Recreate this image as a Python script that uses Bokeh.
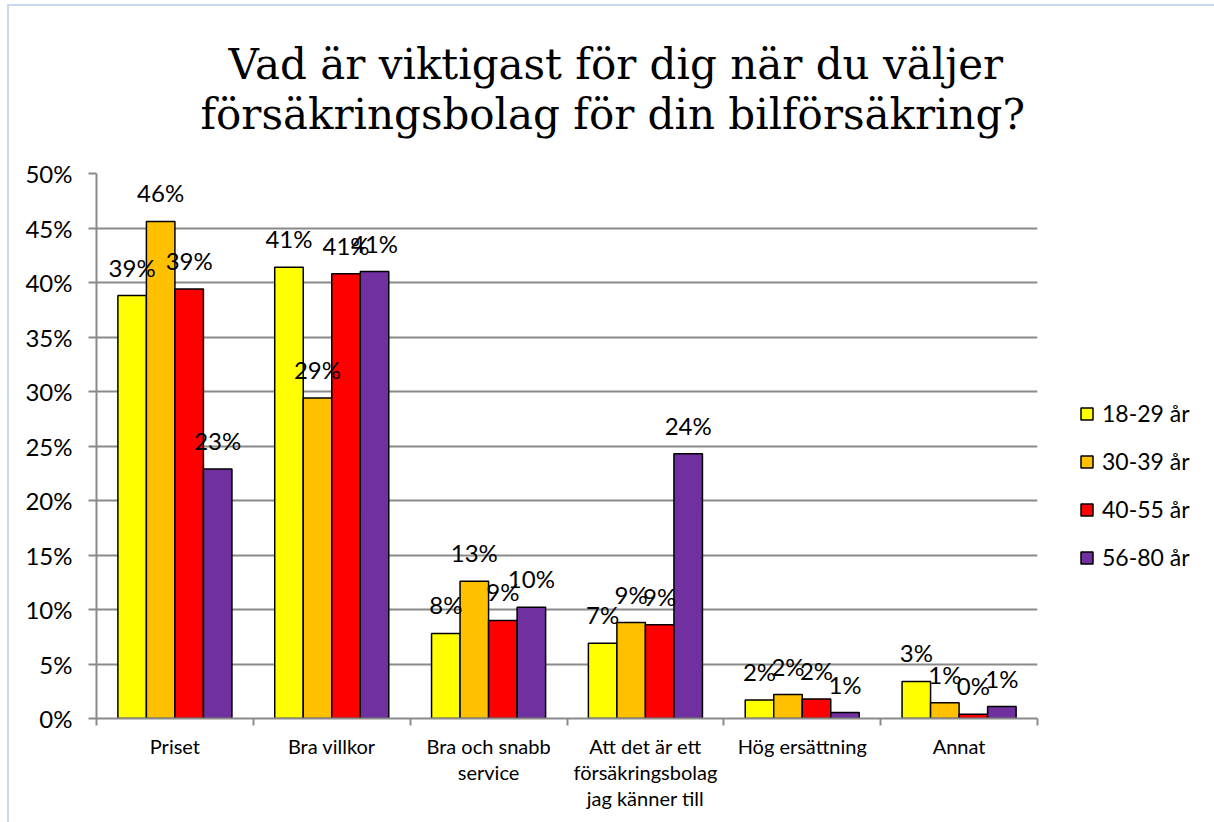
from bokeh.plotting import figure
from bokeh.models import (ColumnDataSource, FixedTicker, PrintfTickFormatter, Legend,
                          LegendItem, LabelSet, Title, Range1d)
from bokeh.core.properties import value
from bokeh.embed import file_html
from bokeh.resources import INLINE

# ---- data ----
categories = ["Priset", "Bra villkor", "Bra och snabb\nservice",
              "Att det är ett\nförsäkringsbolag\njag känner till",
              "Hög ersättning", "Annat"]
groups = ["18-29 år", "30-39 år", "40-55 år", "56-80 år"]
v_18_29 = [38.8, 41.4, 7.8, 6.9, 1.7, 3.4]
v_30_39 = [45.6, 29.4, 12.6, 8.8, 2.2, 1.45]
v_40_55 = [39.4, 40.8, 9.0, 8.6, 1.8, 0.4]
v_56_80 = [22.9, 41.0, 10.2, 24.3, 0.55, 1.1]
series = [v_18_29, v_30_39, v_40_55, v_56_80]
colors = ["#FFFF00", "#FFC000", "#FF0000", "#7030A0"]
y_ticks = [0, 5, 10, 15, 20, 25, 30, 35, 40, 45, 50]
title_lines = ["Vad är viktigast för dig när du väljer",
               "försäkringsbolag för din bilförsäkring?"]

FONT = "Lato"
GRID = "#8a8a8a"
EDGE = "#c6d9f1"

n_cat = len(categories)
n_ser = len(series)
bar_w = 1.0 / (n_ser + 1.5)

p = figure(frame_width=941, frame_height=545,
           x_range=Range1d(0, n_cat), y_range=Range1d(0, 50),
           output_backend="svg", toolbar_location=None,
           min_border_left=96, min_border_right=177,
           min_border_top=173, min_border_bottom=104)
p.outline_line_color = None
p.background_fill_color = "white"
p.border_fill_alpha = 0
p.styles = {"background": (f"linear-gradient({EDGE},{EDGE}) 7px 4px / 2px 100% no-repeat, "
                           f"linear-gradient({EDGE},{EDGE}) 7px 4px / 100% 2px no-repeat, white")}

renderers = []
for i, (vals, col) in enumerate(zip(series, colors)):
    xs = [c + 0.5 + (i - (n_ser - 1) / 2) * bar_w for c in range(n_cat)]
    src = ColumnDataSource(dict(x=xs, top=vals,
                                lbl=["%d%%" % int(v + 0.5) for v in vals]))
    r = p.vbar(x="x", top="top", width=bar_w, source=src,
               fill_color=col, line_color="black", line_width=1.5)
    renderers.append(r)
    p.add_layout(LabelSet(x="x", y="top", text="lbl", source=src,
                          text_align="center", text_baseline="alphabetic",
                          y_offset=19, text_font=value(FONT),
                          text_font_size="24px", text_color="black"))

# axes
p.yaxis.ticker = FixedTicker(ticks=y_ticks)
p.yaxis.formatter = PrintfTickFormatter(format="%d%%")
p.yaxis.major_label_text_font = FONT
p.yaxis.major_label_text_font_size = "24px"
p.yaxis.major_label_text_color = "black"
p.yaxis.major_label_standoff = 16
p.yaxis.major_tick_out = 8
p.yaxis.major_tick_in = 0
p.yaxis.minor_tick_line_color = None
p.yaxis.axis_line_color = GRID
p.yaxis.axis_line_width = 2
p.yaxis.major_tick_line_color = GRID
p.yaxis.major_tick_line_width = 2

centers = [c + 0.5 for c in range(n_cat)]
p.xaxis.ticker = FixedTicker(ticks=centers, minor_ticks=list(range(n_cat + 1)))
p.xaxis.major_label_overrides = {c + 0.5: lab for c, lab in enumerate(categories)}
p.xaxis.major_label_text_font = FONT
p.xaxis.major_label_text_font_size = "20px"
p.xaxis.major_label_text_color = "black"
p.xaxis.major_label_text_line_height = 1.1
p.xaxis.major_label_standoff = 8
p.xaxis.major_tick_line_color = None
p.xaxis.minor_tick_out = 7
p.xaxis.minor_tick_in = 0
p.xaxis.minor_tick_line_color = GRID
p.xaxis.minor_tick_line_width = 2
p.xaxis.axis_line_color = GRID
p.xaxis.axis_line_width = 2

p.xgrid.visible = False
p.ygrid.ticker = FixedTicker(ticks=y_ticks)
p.ygrid.grid_line_color = GRID
p.ygrid.grid_line_width = 2

# legend in the right-hand panel
legend = Legend(items=[LegendItem(label=g, renderers=[r]) for g, r in zip(groups, renderers)],
                location=(42, 147), orientation="vertical",
                padding=0, margin=0, spacing=20,
                glyph_width=15, glyph_height=15, label_height=22,
                label_standoff=8, label_text_font=FONT,
                label_text_font_size="23px", label_text_color="black",
                border_line_color=None, background_fill_alpha=0)
p.add_layout(legend, "right")

# title: two lines above the frame (second line added first = nearest the frame)
p.add_layout(Title(text=title_lines[1], align="left", offset=104, standoff=70,
                   text_font="DejaVu Serif", text_font_size="42px",
                   text_font_style="normal", text_color="black"), "above")
p.add_layout(Title(text=title_lines[0], align="left", offset=132, standoff=-72,
                   text_font="DejaVu Serif", text_font_size="42px",
                   text_font_style="normal", text_color="black"), "above")

open("out.html", "w").write(file_html(p, INLINE))
